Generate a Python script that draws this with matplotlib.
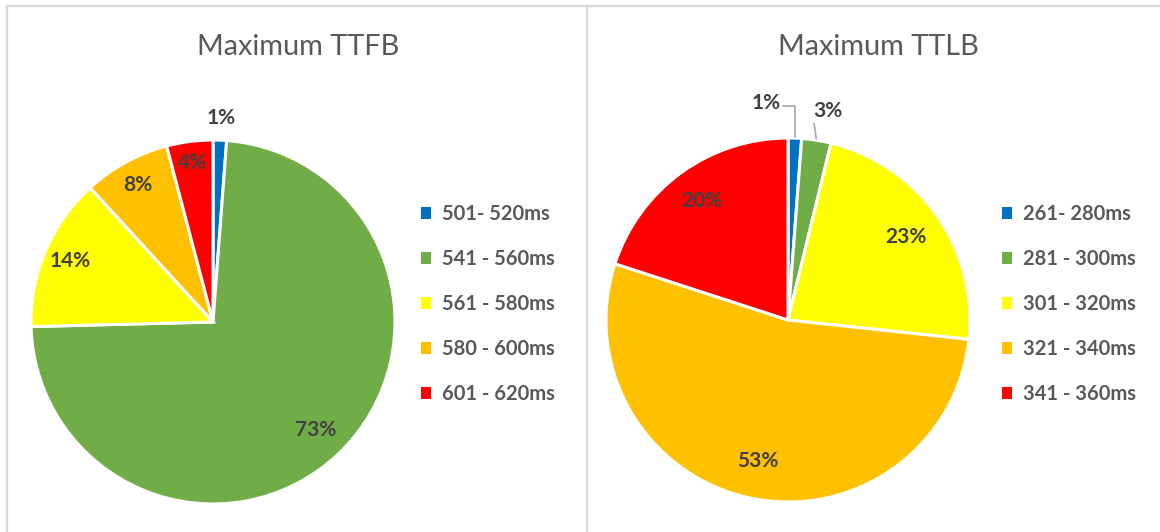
import numpy as np
import matplotlib.pyplot as plt
from matplotlib.patches import Patch
from matplotlib.lines import Line2D

plt.rcParams['font.family'] = ['Lato', 'DejaVu Sans']

colors = ['#0070C0', '#70AD47', '#FFFF00', '#FFC000', '#FF0000']

ttfb_labels = ['501- 520ms', '541 - 560ms', '561 - 580ms', '580 - 600ms', '601 - 620ms']
ttfb_values = [1.2, 73.4, 13.6, 7.7, 4.1]

ttlb_labels = ['261- 280ms', '281 - 300ms', '301 - 320ms', '321 - 340ms', '341 - 360ms']
ttlb_values = [1.2, 2.6, 22.9, 53.3, 20.0]

W, H = 1160, 532
fig = plt.figure(figsize=(W / 100, H / 100), dpi=100)
fig.patch.set_facecolor('white')

TXT = '#404040'
R_PX = 182.0
FS = 14.5


def px_axes(cx, cy):
    # square axes with limits +-1.25 so radius 1 == R_PX pixels
    side = 2.5 * R_PX
    return fig.add_axes([(cx - side / 2) / W, (H - cy - side / 2) / H, side / W, side / H])


def mid_angles(vals):
    cum = np.cumsum(vals) - np.array(vals) / 2.0
    return np.deg2rad(90 - 360 * cum / sum(vals))


def draw_pie(ax, vals, dists, skip=()):
    ax.pie(vals, colors=colors, startangle=90, counterclock=False,
           wedgeprops=dict(edgecolor='white', linewidth=2.2))
    for i, (v, a, d) in enumerate(zip(vals, mid_angles(vals), dists)):
        if i in skip:
            continue
        ax.text(d * np.cos(a), d * np.sin(a), f'{v:.0f}%', ha='center', va='center',
                fontsize=FS + 0.5, fontweight='bold', color=TXT)
    ax.set_xlim(-1.25, 1.25)
    ax.set_ylim(-1.25, 1.25)
    ax.patch.set_visible(False)


def draw_legend(labels, x0):
    handles = [Patch(facecolor=c, edgecolor='none') for c in colors]
    fig.legend(handles, labels, loc='upper left', bbox_to_anchor=(x0 / W, 1 - 196 / H),
               frameon=False, handlelength=0.5, handleheight=0.5,
               handletextpad=0.55, labelspacing=1.24, borderaxespad=0,
               prop=dict(weight='bold', size=FS), labelcolor='#595959')


# left chart
ax1 = px_axes(213, 322)
draw_pie(ax1, ttfb_values, [1.12, 0.82, 0.85, 0.86, 0.88])
draw_legend(ttfb_labels, 413)
fig.text(298 / W, 1 - 47 / H, 'Maximum TTFB', ha='center', va='center',
         fontsize=20.8, color='#595959')

# right chart
ax2 = px_axes(788, 320)
draw_pie(ax2, ttlb_values, [1.2, 1.2, 0.79, 0.79, 0.81], skip=(0, 1))
ang = mid_angles(ttlb_values)
lead = dict(arrowstyle='-', color='#a6a6a6', lw=1.2, shrinkA=0, shrinkB=1)
ax2.annotate(f'{ttlb_values[0]:.0f}%', xy=(np.cos(ang[0]), np.sin(ang[0])),
             xytext=(-0.04, 1.19), ha='right', va='center', fontsize=FS + 0.5,
             fontweight='bold', color=TXT, annotation_clip=False,
             arrowprops=dict(lead, connectionstyle='angle,angleA=0,angleB=90,rad=0',
                             relpos=(1, 0.35)))
ax2.annotate(f'{ttlb_values[1]:.0f}%', xy=(np.cos(ang[1]), np.sin(ang[1])),
             xytext=(0.14, 1.15), ha='left', va='center', fontsize=FS + 0.5,
             fontweight='bold', color=TXT, annotation_clip=False,
             arrowprops=dict(lead, relpos=(0, 0.1)))
draw_legend(ttlb_labels, 994)
fig.text(878 / W, 1 - 47 / H, 'Maximum TTLB', ha='center', va='center',
         fontsize=20.8, color='#595959')

# panel borders
border = '#d9d9d9'
for xs, ys in [([6.5, 6.5], [6, H]), ([586.5, 586.5], [6, H]), ([6.5, W], [6, 6])]:
    fig.add_artist(Line2D([x / W for x in xs], [1 - y / H for y in ys],
                          color=border, lw=1.6, transform=fig.transFigure))

fig.savefig('out.png', dpi=100)
